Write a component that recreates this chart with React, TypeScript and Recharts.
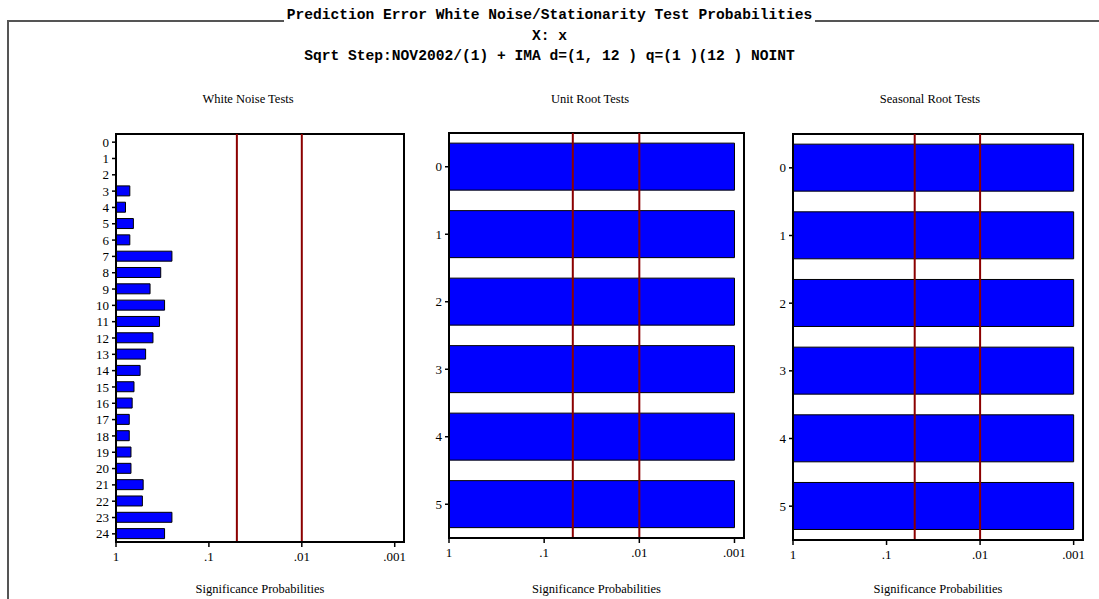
// Prediction error white noise / stationarity test probabilities
// three horizontal bar panels on a -log10(p) scale

import { BarChart, Bar, XAxis, YAxis, ReferenceLine, ReferenceArea } from "recharts";

const WN_LAGS = ["0","1","2","3","4","5","6","7","8","9","10","11","12","13","14","15","16","17","18","19","20","21","22","23","24"];
const WN_PROBS = [null, null, null, 0.71, 0.79, 0.65, 0.71, 0.25, 0.33, 0.43, 0.3, 0.34, 0.4, 0.48, 0.55, 0.64, 0.67, 0.72, 0.72, 0.69, 0.69, 0.51, 0.52, 0.25, 0.3];

const UNIT_LAGS = ["0", "1", "2", "3", "4", "5"];
const UNIT_PROBS = [0.001, 0.001, 0.001, 0.001, 0.001, 0.001];

const SEASONAL_LAGS = ["0", "1", "2", "3", "4", "5"];
const SEASONAL_PROBS = [0.001, 0.001, 0.001, 0.001, 0.001, 0.001];

const X_TICKS = [0, 1, 2, 3];
const X_TICK_LABELS = ["1", ".1", ".01", ".001"];
const SIG_LEVELS = [0.05, 0.01];

const SERIF = "'Liberation Serif', 'DejaVu Serif', serif";
const MONO = "'Liberation Mono', 'DejaVu Sans Mono', monospace";

// p -> -log10(p) so the axis reads 1 .. .001 left to right
const toTable = (lags: string[], probs: (number | null)[]) =>
  lags.map((lag, i) => ({
    lag,
    value: probs[i] == null ? null : -Math.log10(probs[i] as number),
  }));

const tickFmt = (v: number) => X_TICK_LABELS[X_TICKS.indexOf(v)] ?? "";

interface PanelProps {
  data: { lag: string; value: number | null }[];
  left: number;
  width: number;
  yWidth: number;
  marginLeft: number;
  marginRight: number;
  marginTop: number;
  xHeight: number;
  gap: string;
}

const Panel = ({ data, left, width, yWidth, marginLeft, marginRight, marginTop, xHeight, gap }: PanelProps) => (
  <div style={{ position: "absolute", left, top: 80 }}>
    <BarChart
      width={width}
      height={519}
      data={data}
      layout="vertical"
      barCategoryGap={gap}
      margin={{ top: marginTop, right: marginRight, bottom: 0, left: marginLeft }}
    >
      <XAxis
        type="number"
        domain={[0, 3.1]}
        ticks={X_TICKS}
        tickFormatter={tickFmt}
        height={xHeight}
        axisLine={{ stroke: "#000", strokeWidth: 2 }}
        tickLine={{ stroke: "#000", strokeWidth: 1.5 }}
        tickSize={5}
        tickMargin={5}
        tick={{ fill: "#000", fontSize: 13, fontFamily: SERIF }}
        label={{
          value: "Significance Probabilities",
          position: "insideBottom",
          offset: 6,
          fill: "#000",
          fontSize: 12.5,
          fontFamily: SERIF,
        }}
      />
      <YAxis
        type="category"
        dataKey="lag"
        width={yWidth}
        interval={0}
        axisLine={{ stroke: "#000", strokeWidth: 2 }}
        tickLine={{ stroke: "#000", strokeWidth: 1.5 }}
        tickSize={4}
        tickMargin={3}
        tick={{ fill: "#000", fontSize: 13, fontFamily: SERIF }}
      />
      <ReferenceArea x1={0} x2={3.1} fill="none" stroke="#000" strokeWidth={2} fillOpacity={0} />
      <Bar dataKey="value" fill="#0000ff" stroke="#000" strokeWidth={1} isAnimationActive={false} />
      {SIG_LEVELS.map((p) => (
        <ReferenceLine key={p} x={-Math.log10(p)} stroke="#8b0000" strokeWidth={2} />
      ))}
    </BarChart>
  </div>
);

const PanelTitle = ({ text, center }: { text: string; center: number }) => (
  <div
    style={{
      position: "absolute",
      left: center - 100,
      width: 200,
      top: 92,
      textAlign: "center",
      fontFamily: SERIF,
      fontSize: 12.5,
      color: "#000",
    }}
  >
    {text}
  </div>
);

export default function App() {
  const wn = toTable(WN_LAGS, WN_PROBS);
  const unit = toTable(UNIT_LAGS, UNIT_PROBS);
  const seasonal = toTable(SEASONAL_LAGS, SEASONAL_PROBS);

  return (
    <div style={{ position: "absolute", left: 0, top: 0, width: 1099, height: 599, background: "#fff", overflow: "hidden" }}>
      {/* outer frame */}
      <div style={{ position: "absolute", left: 7, top: 20, width: 1100, height: 600, borderTop: "2px solid #555", borderLeft: "2px solid #555" }} />
      <div
        style={{
          position: "absolute",
          left: 0,
          width: 1099,
          top: 7,
          textAlign: "center",
          fontFamily: MONO,
          fontWeight: "bold",
          fontSize: 14.6,
          lineHeight: "17px",
          color: "#000",
        }}
      >
        <span style={{ background: "#fff", padding: "0 3px", whiteSpace: "pre" }}>
          Prediction Error White Noise/Stationarity Test Probabilities
        </span>
      </div>
      <div style={{ position: "absolute", left: 0, width: 1099, top: 28, textAlign: "center", fontFamily: MONO, fontWeight: "bold", fontSize: 14.6, whiteSpace: "pre" }}>
        X: x
      </div>
      <div style={{ position: "absolute", left: 0, width: 1099, top: 48, textAlign: "center", fontFamily: MONO, fontWeight: "bold", fontSize: 14.6, whiteSpace: "pre" }}>
        {"Sqrt Step:NOV2002/(1) + IMA d=(1, 12 ) q=(1 )(12 ) NOINT"}
      </div>

      <PanelTitle text="White Noise Tests" center={248} />
      <PanelTitle text="Unit Root Tests" center={590} />
      <PanelTitle text="Seasonal Root Tests" center={930} />

      <Panel data={wn} left={0} width={420} yWidth={30} marginLeft={86} marginRight={16} marginTop={54} xHeight={57} gap="18%" />
      <Panel data={unit} left={420} width={360} yWidth={29} marginLeft={0} marginRight={36} marginTop={53} xHeight={61} gap="15%" />
      <Panel data={seasonal} left={760} width={339} yWidth={33} marginLeft={0} marginRight={16} marginTop={54} xHeight={59} gap="15%" />
    </div>
  );
}
